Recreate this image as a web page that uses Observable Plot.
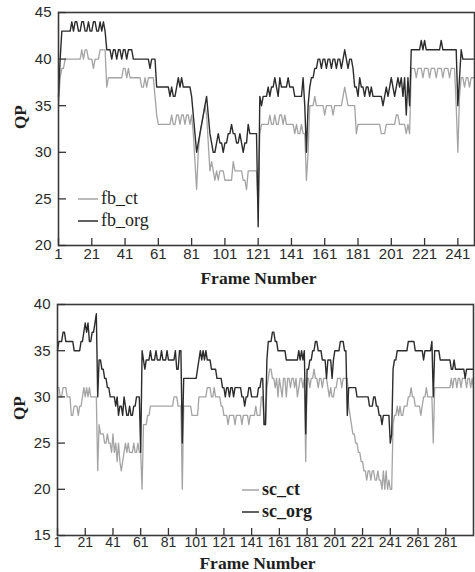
<!DOCTYPE html>
<html>
<head>
<meta charset="utf-8">
<script src="https://cdn.jsdelivr.net/npm/d3@7"></script>
<script src="https://cdn.jsdelivr.net/npm/@observablehq/plot@0.6"></script>
<style>
  html, body { margin: 0; padding: 0; background: #fff; }
  #chart svg { display: block; }
</style>
</head>
<body>
<div id="chart"></div>
<script>
// ---- Data: [frame, QP] at the frames where the value changes ----
const fbCt = [[1,35],[2,38],[3,39],[5,40],[15,41],[16,40],[17,41],[19,40],[22,39],[23,40],[26,41],[30,37],[31,38],[40,39],[42,38],[43,39],[44,38],[51,37],[53,38],[54,37],[55,38],[59,36],[60,34],[61,33],[69,34],[70,33],[72,34],[74,33],[75,34],[77,33],[78,34],[80,33],[81,34],[82,32],[83,29],[84,26],[85,30],[86,32],[87,33],[88,34],[89,35],[90,34],[91,31],[92,28],[93,29],[94,28],[95,27],[96,28],[97,27],[98,28],[101,27],[106,29],[107,28],[112,27],[114,26],[115,28],[121,24],[122,32],[123,33],[128,34],[129,33],[131,34],[132,33],[134,34],[136,33],[137,34],[138,33],[143,32],[144,33],[145,32],[147,33],[148,32],[150,27],[151,30],[152,35],[155,36],[156,35],[161,34],[162,35],[166,34],[167,35],[172,36],[173,37],[174,36],[175,35],[180,32],[181,33],[195,32],[198,33],[204,34],[206,33],[210,32],[211,33],[212,32],[213,39],[216,38],[217,39],[220,38],[221,39],[224,38],[225,39],[228,38],[229,39],[232,38],[233,39],[236,38],[237,39],[240,35],[241,30],[242,36],[243,38],[245,37],[246,38],[248,37],[249,38],[251,38]];
const fbOrg = [[1,36],[2,40],[3,43],[9,44],[10,43],[11,44],[13,43],[15,44],[17,43],[19,44],[20,43],[22,44],[24,43],[26,44],[27,43],[28,44],[29,43],[30,41],[33,40],[34,41],[36,40],[37,41],[39,40],[40,41],[42,40],[43,41],[46,40],[56,39],[57,40],[60,37],[68,36],[69,37],[70,36],[72,37],[73,38],[74,37],[75,38],[76,37],[81,36],[82,34],[83,32],[84,30],[85,31],[86,32],[87,33],[88,34],[89,35],[90,36],[91,34],[92,32],[93,31],[94,30],[96,31],[97,32],[98,31],[100,30],[101,31],[103,32],[105,33],[106,32],[108,31],[110,32],[111,31],[112,30],[113,31],[115,33],[116,32],[121,22],[122,36],[123,35],[124,36],[127,37],[128,36],[129,37],[131,38],[132,37],[133,36],[134,38],[135,37],[139,38],[140,37],[143,36],[148,38],[149,35],[150,30],[151,35],[152,37],[153,38],[155,39],[157,40],[159,39],[160,40],[162,39],[163,40],[165,39],[166,40],[168,39],[169,40],[171,39],[172,40],[173,41],[174,40],[175,39],[176,40],[178,39],[179,37],[181,36],[182,38],[183,37],[185,36],[186,37],[188,36],[189,37],[190,36],[196,35],[197,36],[198,37],[199,36],[200,37],[201,38],[202,37],[203,36],[204,37],[205,38],[206,37],[207,38],[208,36],[209,38],[210,34],[211,38],[212,35],[213,41],[219,42],[220,41],[221,42],[222,41],[231,42],[232,41],[241,35],[242,38],[243,41],[244,40],[251,40]];
const scCt = [[1,31],[3,30],[5,31],[8,30],[11,28],[13,29],[16,28],[17,29],[19,30],[20,31],[21,30],[22,31],[23,30],[24,31],[25,30],[30,22],[31,27],[32,26],[35,25],[37,26],[38,25],[40,24],[41,26],[42,24],[43,25],[44,23],[45,25],[46,23],[47,22],[48,23],[49,24],[50,25],[51,24],[52,25],[53,24],[56,25],[57,24],[59,25],[60,24],[62,20],[63,27],[66,28],[68,29],[85,30],[88,29],[91,20],[92,29],[98,28],[103,30],[109,31],[112,30],[114,31],[115,30],[119,29],[121,28],[124,27],[125,28],[129,27],[130,28],[134,27],[135,28],[139,27],[140,28],[144,29],[145,28],[148,30],[150,27],[152,31],[153,32],[154,33],[156,32],[158,31],[159,32],[160,30],[161,32],[162,31],[163,30],[164,32],[166,30],[167,32],[169,31],[170,32],[172,31],[173,32],[174,30],[175,31],[176,32],[178,31],[179,32],[180,23],[181,32],[183,31],[184,32],[186,33],[187,32],[189,31],[190,32],[192,31],[193,32],[196,31],[197,30],[198,31],[199,30],[201,31],[203,32],[206,31],[207,32],[211,29],[212,28],[213,27],[214,26],[216,25],[218,24],[220,23],[222,22],[224,21],[225,22],[227,21],[228,22],[230,21],[232,22],[233,21],[235,20],[236,22],[237,20],[238,22],[239,20],[240,21],[241,20],[243,27],[244,28],[246,29],[247,28],[248,29],[249,28],[251,29],[254,30],[256,31],[257,30],[259,29],[263,28],[264,29],[265,30],[267,31],[268,30],[272,25],[273,31],[285,32],[286,31],[287,32],[289,31],[290,32],[292,31],[293,32],[296,31],[297,32],[299,31],[300,32],[301,31]];
const scOrg = [[1,35],[2,36],[5,37],[7,36],[13,35],[18,36],[20,37],[21,38],[22,37],[23,38],[24,36],[26,37],[28,38],[29,39],[30,30],[31,34],[33,33],[35,32],[37,31],[39,30],[43,29],[44,30],[45,28],[46,29],[48,28],[49,30],[50,29],[51,28],[53,29],[54,28],[56,29],[58,30],[61,24],[62,35],[63,34],[64,33],[65,34],[68,35],[69,34],[72,35],[73,34],[76,35],[77,34],[80,35],[81,34],[86,35],[87,33],[89,35],[91,25],[92,32],[102,33],[103,34],[104,35],[105,34],[106,35],[107,34],[108,35],[109,34],[112,33],[116,32],[120,31],[122,30],[123,31],[125,30],[126,31],[128,30],[129,31],[134,30],[136,29],[137,30],[139,31],[141,30],[146,31],[148,32],[150,27],[152,34],[153,36],[156,37],[158,36],[160,35],[166,34],[175,35],[176,34],[177,35],[178,34],[179,35],[180,26],[181,33],[183,34],[185,35],[187,36],[189,35],[192,34],[195,32],[196,34],[199,32],[200,34],[201,35],[205,36],[208,35],[210,28],[211,31],[217,30],[226,29],[229,30],[231,29],[233,28],[235,27],[236,28],[241,25],[242,26],[243,33],[244,34],[246,35],[254,36],[259,35],[265,34],[266,35],[271,36],[272,30],[273,35],[277,34],[285,33],[287,34],[288,33],[295,32],[296,33],[301,33]];

const topXTicks = [1,21,41,61,81,101,121,141,161,181,201,221,241];
const botXTicks = [1,21,41,61,81,101,121,141,161,181,201,221,241,261,281];
const topYTicks = [20,25,30,35,40,45];
const botYTicks = [15,20,25,30,35,40];
const topNames = ["fb_ct","fb_org"];
const botNames = ["sc_ct","sc_org"];
const axisTitleX = "Frame Number";
const axisTitleY = "QP";

const LIGHT = "#a4a4a4", DARK = "#2c2c2c";
const SANS = "'Liberation Sans', Arial, sans-serif";
const SERIF = "'Liberation Serif', 'Times New Roman', serif";

// Curve: hold the value, then move to the new value over one frame (w px)
function frameCurve(w) {
  return (context) => {
    let px, py, started;
    return {
      areaStart() {}, areaEnd() {},
      lineStart() { started = false; },
      lineEnd() {},
      point(x, y) {
        x = +x; y = +y;
        if (!started) { context.moveTo(x, y); started = true; }
        else {
          const xm = Math.max(px, x - w);
          if (xm > px) context.lineTo(xm, py);
          context.lineTo(x, y);
        }
        px = x; py = y;
      }
    };
  };
}

function legendMark(names, dx, dys, swatchLen, fontWeight, fontSize) {
  return (index, scales, values, dims) => {
    const g = d3.create("svg:g");
    const x0 = dims.marginLeft + dx;
    const yb = dims.height - dims.marginBottom;
    names.forEach((name, i) => {
      const y = yb + dys[i];
      g.append("line").attr("x1", x0).attr("x2", x0 + swatchLen).attr("y1", y).attr("y2", y)
        .attr("stroke", i === 0 ? LIGHT : DARK).attr("stroke-width", 1.5);
      g.append("text").attr("x", x0 + swatchLen + 3).attr("y", y).attr("dy", "0.3em")
        .attr("text-anchor", "start")
        .attr("font-family", SERIF).attr("font-size", fontSize).attr("font-weight", fontWeight)
        .attr("fill", "#1e1e1e").text(name);
    });
    return g.node();
  };
}

function panel(o) {
  const frameW = (475 - o.ml - o.mr) / (o.xDomain[1] - o.xDomain[0]);
  return Plot.plot({
    width: 475, height: o.height,
    marginTop: o.mt, marginBottom: o.mb, marginLeft: o.ml, marginRight: o.mr,
    style: {background: "#fff", fontFamily: SANS, color: "#2a2a2a", overflow: "visible"},
    x: {domain: o.xDomain},
    y: {domain: o.yDomain},
    marks: [
      Plot.line(o.ct, {x: d => d[0], y: d => d[1], curve: frameCurve(frameW), stroke: LIGHT, strokeWidth: 1.3}),
      Plot.line(o.org, {x: d => d[0], y: d => d[1], curve: frameCurve(frameW), stroke: DARK, strokeWidth: 1.4}),
      Plot.frame({stroke: "#3a3a3a", strokeWidth: 1.6}),
      Plot.axisY(o.yTicks, {tickSize: 8, dx: 8, fill: "none", stroke: "#333", strokeWidth: 1.3, label: null}),
      Plot.axisY(o.yTicks, {tickSize: 0, tickPadding: 7, fontSize: 15, label: null, fill: "#2a2a2a"}),
      Plot.axisX(o.xTicks, {tickSize: 7, dy: -7, fill: "none", stroke: "#333", strokeWidth: 1.3, label: null}),
      Plot.axisX(o.xTicks, {tickSize: 0, tickPadding: o.xPad, fontSize: o.xFont, label: null, fill: "#2a2a2a"}),
      Plot.text([axisTitleX], {text: d => d, frameAnchor: "bottom", dx: -8, dy: o.titleDy, lineAnchor: "bottom",
        fontFamily: SERIF, fontWeight: "bold", fontSize: 17.5, fill: "#1e1e1e"}),
      Plot.text([axisTitleY], {text: d => d, frameAnchor: "left", dx: -38, rotate: -90,
        fontFamily: SERIF, fontWeight: "bold", fontSize: 17, fill: "#1e1e1e"}),
      legendMark(o.names, o.legDx, o.legDys, o.swatch, o.legWeight, 18)
    ]
  });
}

const chart = document.getElementById("chart");
chart.append(panel({
  height: 290, mt: 12, mb: 45, ml: 58, mr: 1,
  xDomain: [1, 251], yDomain: [20, 45], xTicks: topXTicks, yTicks: topYTicks,
  ct: fbCt, org: fbOrg, names: topNames, xFont: 15, xPad: 3, titleDy: 38,
  legDx: 20, legDys: [-46, -24], swatch: 20, legWeight: "normal"
}));
chart.append(panel({
  height: 282, mt: 14, mb: 37, ml: 57, mr: 2,
  xDomain: [1, 301], yDomain: [15, 40], xTicks: botXTicks, yTicks: botYTicks,
  ct: scCt, org: scOrg, names: botNames, xFont: 14, xPad: 2, titleDy: 33,
  legDx: 185, legDys: [-45, -23], swatch: 17, legWeight: "bold"
}));
</script>
</body>
</html>
